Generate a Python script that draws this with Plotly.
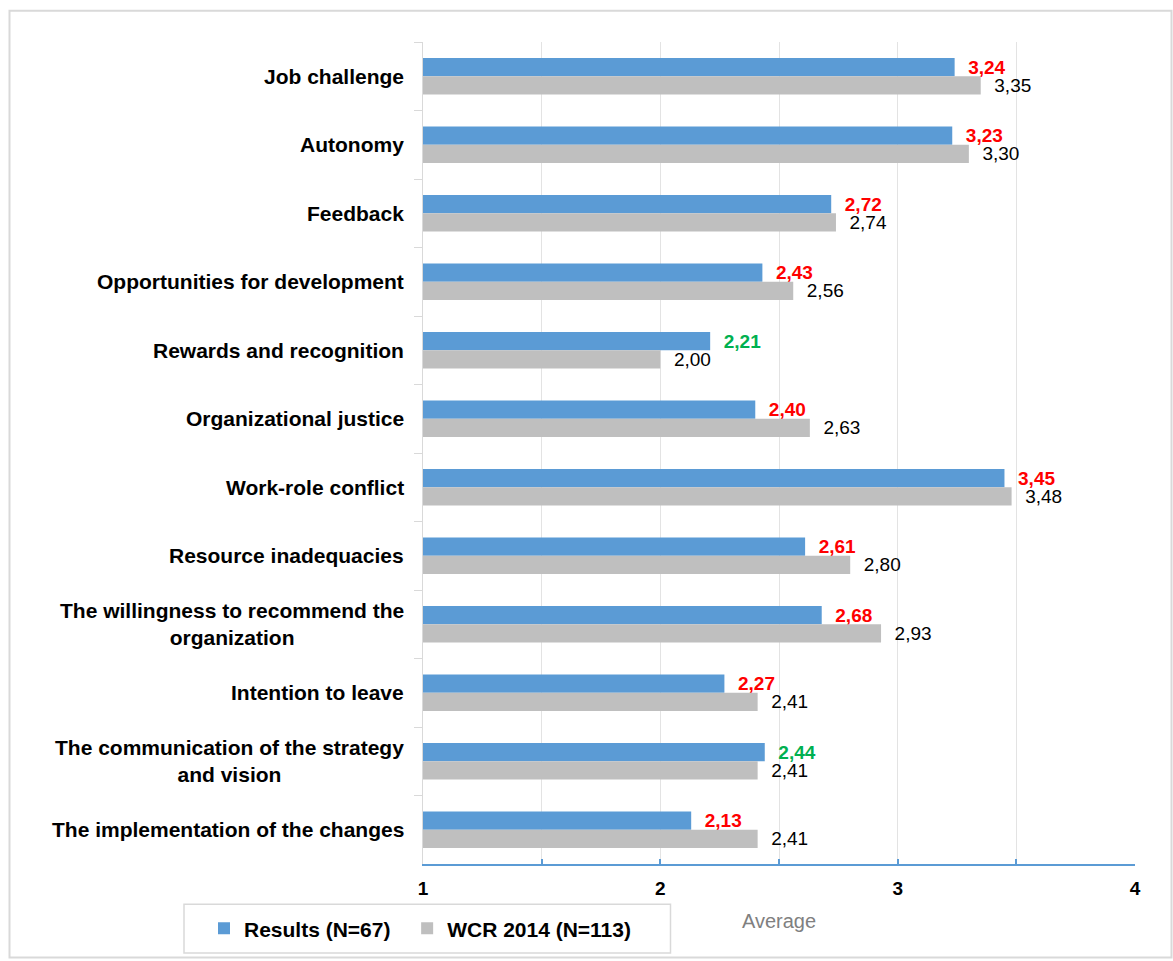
import plotly.graph_objects as go

categories = ["Job challenge", "Autonomy", "Feedback", "Opportunities for development",
              "Rewards and recognition", "Organizational justice", "Work-role conflict",
              "Resource inadequacies", "The willingness to recommend the organization",
              "Intention to leave", "The communication of the strategy and vision",
              "The implementation of the changes"]
category_labels = ["Job challenge", "Autonomy", "Feedback", "Opportunities for development",
                   "Rewards and recognition", "Organizational justice", "Work-role conflict",
                   "Resource inadequacies", "The willingness to recommend the<br>organization",
                   "Intention to leave", "The communication of the strategy<br>and vision",
                   "The implementation of the changes"]
results = [3.24, 3.23, 2.72, 2.43, 2.21, 2.40, 3.45, 2.61, 2.68, 2.27, 2.44, 2.13]
wcr2014 = [3.35, 3.30, 2.74, 2.56, 2.00, 2.63, 3.48, 2.80, 2.93, 2.41, 2.41, 2.41]
results_label_colors = ["#FF0000", "#FF0000", "#FF0000", "#FF0000", "#00B050", "#FF0000",
                        "#FF0000", "#FF0000", "#FF0000", "#FF0000", "#00B050", "#FF0000"]
series_names = ["Results (N=67)", "WCR 2014 (N=113)"]
x_tickvals = [1, 1.5, 2, 2.5, 3, 3.5, 4]
x_ticktext = ["1", "", "2", "", "3", "", "4"]

FONT = "Liberation Sans, Arial, sans-serif"
BLUE = "#5B9BD5"
GRAY = "#BFBFBF"


def fmt(v):
    return f"{v:.2f}".replace(".", ",")


fig = go.Figure()
fig.add_trace(go.Bar(
    y=categories, x=results, orientation="h", name="<b>" + series_names[0] + "</b>\u00a0\u00a0",
    marker=dict(color=BLUE, line=dict(width=0)),
    text=["\u00a0\u00a0<b>" + fmt(v) + "</b>" for v in results],
    textposition="outside", textfont=dict(size=19, color=results_label_colors, family=FONT),
    cliponaxis=False, constraintext="none",
))
fig.add_trace(go.Bar(
    y=categories, x=wcr2014, orientation="h", name="<b>" + series_names[1] + "</b>",
    marker=dict(color=GRAY, line=dict(width=0)),
    text=["\u00a0\u00a0" + fmt(v) for v in wcr2014],
    textposition="outside", textfont=dict(size=19, color="#000000", family=FONT),
    cliponaxis=False, constraintext="none",
))

# category labels, centred multi-line like the original
for cat, lab in zip(categories, category_labels):
    fig.add_annotation(
        x=0, xref="paper", y=cat, yref="y", text="<b>" + lab + "</b>",
        xanchor="right", yanchor="middle", align="center", xshift=-17,
        showarrow=False, font=dict(size=21, color="#000000", family=FONT),
    )

L, R, T, B = 423, 38, 42, 93
W, H = 1173, 961
pw, ph = W - L - R, H - T - B


def px(x):
    return (x - L) / pw


def py(y):
    return (H - B - y) / ph


shapes = [
    # outer chart frame
    dict(type="rect", xref="paper", yref="paper", x0=px(9.5), x1=px(1171.5), y0=py(962),
         y1=py(10.5), line=dict(color="#D9D9D9", width=2), fillcolor="rgba(0,0,0,0)", layer="below"),
    # legend frame
    dict(type="rect", xref="paper", yref="paper", x0=px(184), x1=px(670.5), y0=py(957.5),
         y1=py(908.5), line=dict(color="#D9D9D9", width=1.5), fillcolor="rgba(0,0,0,0)"),
]

fig.update_layout(
    width=W, height=H,
    margin=dict(l=L, r=R, t=T, b=B, pad=0),
    paper_bgcolor="white", plot_bgcolor="white",
    barmode="group", bargap=0.468, bargroupgap=0,
    font=dict(family=FONT, color="#000000"),
    shapes=shapes,
    showlegend=True,
    legend=dict(orientation="h", x=px(204), y=py(933), xanchor="left", yanchor="middle",
                font=dict(size=21, family=FONT, color="#000000"),
                bgcolor="rgba(0,0,0,0)", borderwidth=0, itemclick=False),
    xaxis=dict(
        range=[1, 4], tickmode="array", tickvals=x_tickvals, ticktext=x_ticktext,
        showgrid=True, gridcolor="#E3E3E3", gridwidth=1,
        showline=True, linecolor=BLUE, linewidth=1.5,
        ticks="inside", ticklen=5, tickcolor=BLUE, tickwidth=1.5,
        ticklabelstandoff=6,
        tickfont=dict(size=19, family=FONT, color="#000000", weight="bold"),
        title=dict(text="Average", font=dict(size=20, color="#808080", family=FONT), standoff=16),
        zeroline=False, fixedrange=True,
    ),
    xaxis2=dict(
        range=[1, 4], overlaying="x", anchor="y", side="bottom",
        tickmode="array", tickvals=x_tickvals, showticklabels=False,
        ticks="outside", ticklen=5, tickcolor=BLUE, tickwidth=1.5,
        showgrid=False, showline=False, zeroline=False, fixedrange=True,
    ),
    yaxis=dict(
        autorange="reversed", type="category", showticklabels=False,
        showline=True, linecolor="#D9D9D9", linewidth=1,
        ticks="outside", tickson="boundaries", ticklen=8, tickcolor="#D9D9D9",
        showgrid=False, zeroline=False, fixedrange=True,
    ),
)

fig.write_html("out.html")
